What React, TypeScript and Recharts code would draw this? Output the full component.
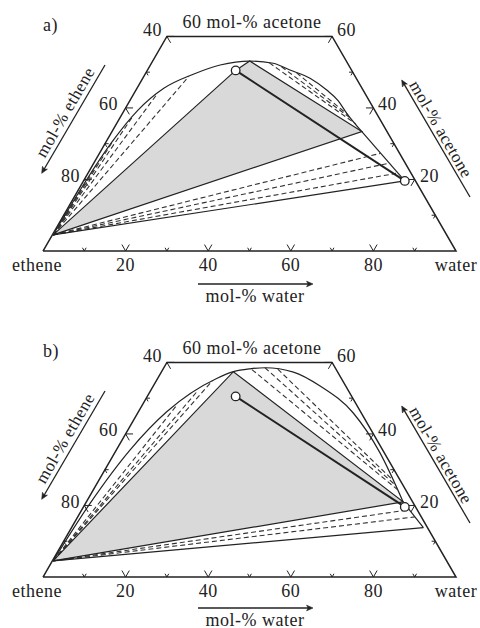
import { ScatterChart, Scatter, XAxis, YAxis } from "recharts";

// compositions as [mol-% water, mol-% acetone]; ethene is the rest
type Pt = [number, number];

const vapour: Pt = [0.2, 4.5];
const markers: Pt[] = [[21.4, 50.5], [77.8, 19.6]];
const outline: Pt[] = [[0, 0], [100, 0], [40, 60], [0, 60], [0, 0]];

const baseTicks = [10, 20, 30, 40, 50, 60, 70, 80, 90]; // mol-% water
const etheneTicks = [40, 50, 60, 70, 80, 90]; // left edge
const acetoneTicks = [10, 20, 30, 40, 50, 60]; // right edge
const baseLabels = [0, 20, 40, 60, 80, 100];
const baseNames: Record<number, string> = { 0: "ethene", 100: "water" };

// panel a
const domeA: Pt[] = [
  [0.2, 4.5], [0.3, 10], [0.6, 20], [1.4, 30], [3.3, 39.4], [6.5, 45.5], [11.8, 49.5],
  [16.9, 52.0], [23.5, 53.1], [29.5, 52.5], [34.5, 50.6], [40.5, 48.3], [46.2, 45.0],
  [50.5, 42.0], [54.3, 38.5], [60.5, 33.4],
];
const branchA: Pt[] = [[60.5, 33.4], [77.8, 19.6]];
const threePhaseA: Pt[] = [[0.2, 4.5], [21.4, 50.5], [23.5, 53.1], [60.5, 33.4], [0.2, 4.5]];
const leftTiesA: Pt[] = [[10.9, 48.8], [5.7, 44.0], [2.9, 37.5], [1.6, 31.0], [0.9, 24.0]];
const topTiesA: [Pt, Pt][] = [
  [[28.5, 52.6], [58.0, 35.5]],
  [[32.0, 51.5], [56.3, 36.9]],
  [[36.5, 49.8], [54.5, 38.3]],
];
const rightTiesA: Pt[] = [[68.0, 27.3], [71.3, 24.5], [74.6, 21.7]];
const lowestA: Pt = [77.8, 19.6];

// panel b
const domeB: Pt[] = [
  [0.2, 4.5], [1.1, 20.6], [3.3, 35.5], [6.85, 46.2], [14.3, 55.5], [17.4, 57.4],
  [21.0, 58.2], [24.5, 58.5], [32.0, 57.3], [40.4, 53.4], [52.2, 45.85], [64.25, 34.7],
  [76.7, 21.0],
];
const branchB: Pt[] = [[76.7, 21.0], [85.2, 13.8]];
const threePhaseB: Pt[] = [[0.2, 4.5], [17.4, 57.4], [76.7, 21.0], [0.2, 4.5]];
const leftTiesB: Pt[] = [[13.6, 55.0], [11.4, 52.0], [8.4, 48.2]];
const topTiesB: [Pt, Pt][] = [
  [[21.6, 58.0], [73.5, 24.5]],
  [[24.5, 58.5], [72.3, 25.8]],
  [[27.8, 58.1], [71.0, 27.2]],
];
const rightTiesB: Pt[] = [[79.3, 18.8], [81.6, 16.8]];
const lowestB: Pt = [85.2, 13.8];

const serif = "'Liberation Serif', 'Times New Roman', serif";
const ink = "#222";
const fontSize = 18;

// ternary -> cartesian (x along base, y = acetone height)
const toXY = ([w, a]: Pt) => ({ x: w + a / 2, y: a });

const tickLen = (v: number) => (v % 20 === 0 ? 1.8 : 0.9);
const tickMarks: Pt[][] = [
  ...baseTicks.map((t) => {
    const L = tickLen(t);
    return [[t - L, L], [t, 0], [t, L]] as Pt[];
  }),
  ...etheneTicks.map((e) => {
    const a = 100 - e;
    const L = tickLen(e);
    return [[L, a], [0, a], [L, a - L]] as Pt[];
  }),
  ...acetoneTicks.map((a) => {
    const L = tickLen(a);
    return [[100 - a - L, a], [100 - a, a], [100 - a, a - L]] as Pt[];
  }),
];

const noShape = () => null;

function path(key: string, pts: Pt[], style: object, joint: "linear" | "monotone" = "linear") {
  return (
    <Scatter
      key={key}
      data={pts.map(toXY)}
      line={style}
      lineType="joint"
      lineJointType={joint}
      shape={noShape}
      legendType="none"
      isAnimationActive={false}
    />
  );
}

const solid = { stroke: ink, strokeWidth: 1.2, fill: "none" };
const dashed = { stroke: "#333", strokeWidth: 1.1, strokeDasharray: "5 3", fill: "none" };

function BaseTick(props: any) {
  const { x, y, payload } = props;
  const v = payload.value as number;
  return (
    <text
      x={x + (v === 0 ? -6 : 0)}
      y={y + 20}
      textAnchor="middle"
      fontFamily={serif}
      fontSize={fontSize}
      letterSpacing={0.5}
      fill={ink}
    >
      {baseNames[v] ?? String(v)}
    </text>
  );
}

function Arrow({ x1, y1, x2, y2 }: { x1: number; y1: number; x2: number; y2: number }) {
  const ang = Math.atan2(y2 - y1, x2 - x1);
  const h = 7;
  const s = 0.42;
  const p1 = `${x2 - h * Math.cos(ang - s)},${y2 - h * Math.sin(ang - s)}`;
  const p2 = `${x2 - h * Math.cos(ang + s)},${y2 - h * Math.sin(ang + s)}`;
  const notch = `${x2 - h * 0.7 * Math.cos(ang)},${y2 - h * 0.7 * Math.sin(ang)}`;
  return (
    <g stroke={ink} strokeWidth={1.3}>
      <line x1={x1} y1={y1} x2={x2 - 3 * Math.cos(ang)} y2={y2 - 3 * Math.sin(ang)} />
      <polygon points={`${p1} ${x2},${y2} ${p2} ${notch}`} fill={ink} strokeWidth={0.6} />
    </g>
  );
}

function Labels({ tag, waterY, arrowY }: { tag: string; waterY: number; arrowY: number }) {
  const t = { fontFamily: serif, fontSize, fill: ink, letterSpacing: 0.5 };
  const r = { fontFamily: serif, fontSize: 17, fill: ink, letterSpacing: 0.5 };
  return (
    <svg width={480} height={326} style={{ position: "absolute", left: 0, top: 0, pointerEvents: "none" }}>
      <text x={43} y={31} {...t}>{tag}</text>
      <text x={252} y={28} textAnchor="middle" {...t}>60 mol-% acetone</text>
      <text x={162} y={36} textAnchor="end" {...t}>40</text>
      <text x={337} y={36} {...t}>60</text>
      <text x={118} y={110} textAnchor="end" {...t}>60</text>
      <text x={80} y={181.5} textAnchor="end" {...t}>80</text>
      <text x={378} y={110} {...t}>40</text>
      <text x={420} y={181.5} {...t}>20</text>
      <text x={255} y={waterY} textAnchor="middle" {...t}>mol-% water</text>
      <text transform="translate(70,115) rotate(-60)" textAnchor="middle" {...r}>mol-% ethene</text>
      <text transform="translate(436,132) rotate(60)" textAnchor="middle" {...r}>mol-% acetone</text>
      <Arrow x1={198} y1={arrowY} x2={313} y2={arrowY} />
      <Arrow x1={105} y1={65} x2={41.7} y2={173.3} />
      <Arrow x1={470} y1={197} x2={401.7} y2={80} />
    </svg>
  );
}

type PanelProps = {
  tag: string;
  top: number;
  waterY: number;
  arrowY: number;
  dome: Pt[];
  branch: Pt[];
  threePhase: Pt[];
  leftTies: Pt[];
  topTies: [Pt, Pt][];
  rightTies: Pt[];
  lowest: Pt;
};

function Panel({ tag, top, waterY, arrowY, dome, branch, threePhase, leftTies, topTies, rightTies, lowest }: PanelProps) {
  return (
    <div style={{ position: "absolute", left: 0, top, width: 480, height: 326 }}>
      <ScatterChart width={480} height={326} margin={{ top: 36.4, right: 24, bottom: 45, left: 43 }}>
        <XAxis
          dataKey="x"
          type="number"
          domain={[0, 100]}
          ticks={baseLabels}
          interval={0}
          axisLine={false}
          tickLine={false}
          tickSize={0}
          tickMargin={0}
          height={30}
          tick={<BaseTick />}
        />
        <YAxis dataKey="y" type="number" domain={[0, 60]} hide />
        {path("fill", threePhase, { stroke: "none", fill: "#d9d9d9" })}
        {path("outline", outline, { stroke: ink, strokeWidth: 1.5, fill: "none" })}
        {tickMarks.map((m, i) => path(`tick${i}`, m, { stroke: ink, strokeWidth: 1, fill: "none" }))}
        {path("dome", dome, solid, "monotone")}
        {path("branch", branch, solid)}
        {leftTies.map((p, i) => path(`lt${i}`, [vapour, p], dashed))}
        {topTies.map((p, i) => path(`tt${i}`, p, dashed))}
        {rightTies.map((p, i) => path(`rt${i}`, [vapour, p], dashed))}
        {path("tri", threePhase, solid)}
        {path("lowest", [vapour, lowest], solid)}
        {path("bold", markers, { stroke: ink, strokeWidth: 2, fill: "none" })}
        <Scatter
          data={markers.map(toXY)}
          legendType="none"
          isAnimationActive={false}
          shape={(p: any) => <circle cx={p.cx} cy={p.cy} r={4.3} fill="#fff" stroke={ink} strokeWidth={1.3} />}
        />
      </ScatterChart>
      <Labels tag={tag} waterY={waterY} arrowY={arrowY} />
    </div>
  );
}

export default function App() {
  return (
    <div style={{ position: "absolute", left: 0, top: 0, width: 480, height: 628, overflow: "hidden", background: "#fff" }}>
      <Panel
        tag="a)"
        top={0}
        waterY={302}
        arrowY={284}
        dome={domeA}
        branch={branchA}
        threePhase={threePhaseA}
        leftTies={leftTiesA}
        topTies={topTiesA}
        rightTies={rightTiesA}
        lowest={lowestA}
      />
      <Panel
        tag="b)"
        top={326}
        waterY={299.5}
        arrowY={282}
        dome={domeB}
        branch={branchB}
        threePhase={threePhaseB}
        leftTies={leftTiesB}
        topTies={topTiesB}
        rightTies={rightTiesB}
        lowest={lowestB}
      />
    </div>
  );
}
